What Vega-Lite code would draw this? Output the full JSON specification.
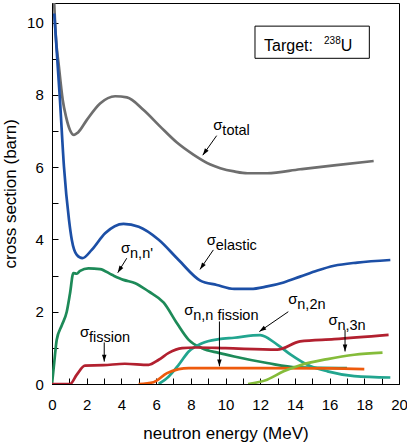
{
  "$schema": "https://vega.github.io/schema/vega-lite/v6.json",
  "width": 347,
  "height": 381,
  "autosize": {"type": "none"},
  "padding": {"left": 52, "top": 3, "right": 8, "bottom": 58},
  "background": "white",
  "config": {
    "font": "Liberation Sans",
    "view": {"stroke": "black", "strokeWidth": 1},
    "axis": {
      "domainColor": "black",
      "tickColor": "black",
      "labelColor": "black",
      "titleColor": "black",
      "labelFont": "Liberation Sans",
      "titleFont": "Liberation Sans",
      "labelFontSize": 15,
      "titleFontSize": 17,
      "titleFontWeight": "normal",
      "grid": false,
      "labelOverlap": false,
      "labelFlush": false,
      "labelBound": false
    }
  },
  "datasets": {
    "curves": [
      {"rxn": "total", "E": 0.07, "s": 11.2},
      {"rxn": "total", "E": 0.21, "s": 9.69},
      {"rxn": "total", "E": 0.40, "s": 8.77},
      {"rxn": "total", "E": 0.62, "s": 7.85},
      {"rxn": "total", "E": 0.81, "s": 7.39},
      {"rxn": "total", "E": 1.04, "s": 7.02},
      {"rxn": "total", "E": 1.27, "s": 6.89},
      {"rxn": "total", "E": 1.5, "s": 6.96},
      {"rxn": "total", "E": 2.0, "s": 7.3},
      {"rxn": "total", "E": 2.77, "s": 7.76},
      {"rxn": "total", "E": 3.64, "s": 7.96},
      {"rxn": "total", "E": 4.32, "s": 7.93},
      {"rxn": "total", "E": 5.28, "s": 7.58},
      {"rxn": "total", "E": 6.24, "s": 7.12},
      {"rxn": "total", "E": 7.2, "s": 6.68},
      {"rxn": "total", "E": 8.17, "s": 6.34},
      {"rxn": "total", "E": 9.13, "s": 6.07},
      {"rxn": "total", "E": 9.7, "s": 5.97},
      {"rxn": "total", "E": 10.5, "s": 5.88},
      {"rxn": "total", "E": 11.26, "s": 5.83},
      {"rxn": "total", "E": 12.4, "s": 5.83},
      {"rxn": "total", "E": 14.3, "s": 5.94},
      {"rxn": "total", "E": 16.26, "s": 6.05},
      {"rxn": "total", "E": 18.54, "s": 6.17},

      {"rxn": "elastic", "E": 0.13, "s": 10.25},
      {"rxn": "elastic", "E": 0.46, "s": 7.85},
      {"rxn": "elastic", "E": 0.69, "s": 6.01},
      {"rxn": "elastic", "E": 0.98, "s": 4.54},
      {"rxn": "elastic", "E": 1.14, "s": 3.99},
      {"rxn": "elastic", "E": 1.43, "s": 3.57},
      {"rxn": "elastic", "E": 1.75, "s": 3.48},
      {"rxn": "elastic", "E": 2.29, "s": 3.71},
      {"rxn": "elastic", "E": 3.06, "s": 4.17},
      {"rxn": "elastic", "E": 4.12, "s": 4.43},
      {"rxn": "elastic", "E": 5.0, "s": 4.35},
      {"rxn": "elastic", "E": 6.15, "s": 3.99},
      {"rxn": "elastic", "E": 7.3, "s": 3.43},
      {"rxn": "elastic", "E": 8.55, "s": 2.86},
      {"rxn": "elastic", "E": 9.5, "s": 2.74},
      {"rxn": "elastic", "E": 10.5, "s": 2.63},
      {"rxn": "elastic", "E": 11.45, "s": 2.63},
      {"rxn": "elastic", "E": 12.4, "s": 2.7},
      {"rxn": "elastic", "E": 13.35, "s": 2.81},
      {"rxn": "elastic", "E": 14.3, "s": 2.97},
      {"rxn": "elastic", "E": 15.3, "s": 3.14},
      {"rxn": "elastic", "E": 16.26, "s": 3.27},
      {"rxn": "elastic", "E": 17.6, "s": 3.36},
      {"rxn": "elastic", "E": 19.5, "s": 3.43},

      {"rxn": "nn", "E": 0.0, "s": 0.0},
      {"rxn": "nn", "E": 0.13, "s": 0.6},
      {"rxn": "nn", "E": 0.27, "s": 1.22},
      {"rxn": "nn", "E": 0.56, "s": 1.62},
      {"rxn": "nn", "E": 0.85, "s": 2.0},
      {"rxn": "nn", "E": 1.04, "s": 2.51},
      {"rxn": "nn", "E": 1.23, "s": 3.07},
      {"rxn": "nn", "E": 1.43, "s": 3.05},
      {"rxn": "nn", "E": 1.62, "s": 3.13},
      {"rxn": "nn", "E": 2.1, "s": 3.2},
      {"rxn": "nn", "E": 2.77, "s": 3.18},
      {"rxn": "nn", "E": 3.45, "s": 3.02},
      {"rxn": "nn", "E": 4.12, "s": 2.88},
      {"rxn": "nn", "E": 4.8, "s": 2.79},
      {"rxn": "nn", "E": 5.57, "s": 2.56},
      {"rxn": "nn", "E": 6.44, "s": 2.25},
      {"rxn": "nn", "E": 7.2, "s": 1.68},
      {"rxn": "nn", "E": 7.88, "s": 1.22},
      {"rxn": "nn", "E": 8.65, "s": 0.99},
      {"rxn": "nn", "E": 9.61, "s": 0.86},
      {"rxn": "nn", "E": 10.5, "s": 0.76},
      {"rxn": "nn", "E": 12.4, "s": 0.58},
      {"rxn": "nn", "E": 14.1, "s": 0.46},
      {"rxn": "nn", "E": 17.0, "s": 0.44},

      {"rxn": "n2n", "E": 6.15, "s": 0.0},
      {"rxn": "n2n", "E": 6.73, "s": 0.21},
      {"rxn": "n2n", "E": 7.3, "s": 0.53},
      {"rxn": "n2n", "E": 7.88, "s": 0.9},
      {"rxn": "n2n", "E": 8.65, "s": 1.13},
      {"rxn": "n2n", "E": 9.61, "s": 1.24},
      {"rxn": "n2n", "E": 10.5, "s": 1.28},
      {"rxn": "n2n", "E": 12.0, "s": 1.35},
      {"rxn": "n2n", "E": 12.98, "s": 1.09},
      {"rxn": "n2n", "E": 13.76, "s": 0.81},
      {"rxn": "n2n", "E": 14.72, "s": 0.53},
      {"rxn": "n2n", "E": 15.88, "s": 0.35},
      {"rxn": "n2n", "E": 17.42, "s": 0.22},
      {"rxn": "n2n", "E": 19.5, "s": 0.18},

      {"rxn": "fission", "E": 0.0, "s": 0.0},
      {"rxn": "fission", "E": 1.04, "s": 0.0},
      {"rxn": "fission", "E": 1.43, "s": 0.26},
      {"rxn": "fission", "E": 1.9, "s": 0.51},
      {"rxn": "fission", "E": 2.96, "s": 0.52},
      {"rxn": "fission", "E": 4.2, "s": 0.56},
      {"rxn": "fission", "E": 5.57, "s": 0.53},
      {"rxn": "fission", "E": 6.15, "s": 0.67},
      {"rxn": "fission", "E": 6.73, "s": 0.86},
      {"rxn": "fission", "E": 7.5, "s": 0.99},
      {"rxn": "fission", "E": 8.27, "s": 1.01},
      {"rxn": "fission", "E": 10.0, "s": 0.99},
      {"rxn": "fission", "E": 12.98, "s": 0.95},
      {"rxn": "fission", "E": 14.3, "s": 1.18},
      {"rxn": "fission", "E": 16.26, "s": 1.24},
      {"rxn": "fission", "E": 19.4, "s": 1.36},

      {"rxn": "nnf", "E": 4.99, "s": 0.0},
      {"rxn": "nnf", "E": 5.85, "s": 0.05},
      {"rxn": "nnf", "E": 6.63, "s": 0.3},
      {"rxn": "nnf", "E": 7.3, "s": 0.41},
      {"rxn": "nnf", "E": 7.88, "s": 0.44},
      {"rxn": "nnf", "E": 12.0, "s": 0.44},
      {"rxn": "nnf", "E": 16.0, "s": 0.43},
      {"rxn": "nnf", "E": 18.0, "s": 0.41},

      {"rxn": "n3n", "E": 11.3, "s": 0.0},
      {"rxn": "n3n", "E": 12.4, "s": 0.12},
      {"rxn": "n3n", "E": 13.35, "s": 0.35},
      {"rxn": "n3n", "E": 14.3, "s": 0.52},
      {"rxn": "n3n", "E": 15.88, "s": 0.69},
      {"rxn": "n3n", "E": 17.42, "s": 0.81},
      {"rxn": "n3n", "E": 19.05, "s": 0.87}
    ],
    "labels": [
      {"E": 9.3, "s": 7.02, "sub": "total"},
      {"E": 8.92, "s": 3.85, "sub": "elastic"},
      {"E": 3.98, "s": 3.62, "sub": "n,n'"},
      {"E": 1.61, "s": 1.31, "sub": "fission"},
      {"E": 7.62, "s": 1.91, "sub": "n,n fission"},
      {"E": 13.62, "s": 2.2, "sub": "n,2n"},
      {"E": 15.93, "s": 1.64, "sub": "n,3n"}
    ],
    "arrows": [
      {"E": 8.69, "s": 6.33, "tE": 9.49, "ts": 6.87},
      {"E": 8.53, "s": 3.17, "tE": 9.3, "ts": 3.71},
      {"E": 3.79, "s": 3.08, "tE": 4.31, "ts": 3.48},
      {"E": 3.01, "s": 0.62, "tE": 3.01, "ts": 1.15},
      {"E": 9.65, "s": 0.49, "tE": 9.65, "ts": 1.73},
      {"E": 11.95, "s": 1.45, "tE": 13.62, "ts": 2.0},
      {"E": 16.89, "s": 0.9, "tE": 16.89, "ts": 1.5}
    ]
  },
  "encoding": {
    "x": {
      "field": "E",
      "type": "quantitative",
      "scale": {"domain": [0, 20], "nice": false, "zero": false},
      "axis": {
        "title": "neutron energy (MeV)",
        "values": [0,1,2,3,4,5,6,7,8,9,10,11,12,13,14,15,16,17,18,19,20],
        "labelExpr": "datum.value % 2 == 0 ? datum.label : ''",
        "tickSize": -6,
        "labelPadding": 19,
        "titleY": 54,
        "titleBaseline": "alphabetic"
      }
    },
    "y": {
      "field": "s",
      "type": "quantitative",
      "scale": {"domain": [0, 10.54], "nice": false, "zero": false},
      "axis": {
        "title": "cross section (barn)",
        "values": [0,1,2,3,4,5,6,7,8,9,10],
        "labelExpr": "datum.value % 2 == 0 ? datum.label : ''",
        "tickSize": -6,
        "labelPadding": 14.7,
        "titleX": -37,
        "titleY": 190.3,
        "titleAngle": 270,
        "titleAlign": "center",
        "titleBaseline": "alphabetic"
      }
    }
  },
  "layer": [
    {
      "data": {"name": "curves"},
      "mark": {"type": "line", "strokeWidth": 2.7, "interpolate": "monotone", "clip": true},
      "encoding": {
        "color": {
          "field": "rxn",
          "type": "nominal",
          "scale": {
            "domain": ["total", "elastic", "nn", "n2n", "fission", "nnf", "n3n"],
            "range": ["#6e6e6e", "#1c4fa6", "#1d8a58", "#22a58f", "#b2202f", "#ee5a0c", "#85bc3a"]
          },
          "legend": null
        },
        "detail": {"field": "rxn"}
      }
    },
    {
      "data": {"name": "arrows"},
      "mark": {"type": "rule", "color": "black", "strokeWidth": 1},
      "encoding": {
        "x2": {"field": "tE"},
        "y2": {"field": "ts"}
      }
    },
    {
      "data": {"name": "arrows"},
      "transform": [
        {"calculate": "atan2((datum.E - datum.tE) * 17.35, (datum.s - datum.ts) * 36.15) * 180 / PI", "as": "ang"}
      ],
      "mark": {"type": "point", "shape": "M0,0L-0.75,2.3L0.75,2.3Z", "filled": true, "color": "black", "size": 36, "opacity": 1},
      "encoding": {
        "angle": {"field": "ang", "type": "quantitative", "scale": null}
      }
    },
    {
      "data": {"name": "labels"},
      "mark": {"type": "text", "text": "σ", "align": "left", "baseline": "alphabetic", "fontSize": 15, "color": "black"}
    },
    {
      "data": {"name": "labels"},
      "mark": {"type": "text", "align": "left", "baseline": "alphabetic", "fontSize": 14.5, "dx": 9, "dy": 5, "color": "black"},
      "encoding": {"text": {"field": "sub"}}
    },
    {
      "data": {"values": [{"E": 11.7, "E2": 18.29, "s": 9.9, "s2": 9.01}]},
      "mark": {"type": "rect", "fill": "white", "stroke": "black", "strokeWidth": 1},
      "encoding": {
        "x2": {"field": "E2"},
        "y2": {"field": "s2"}
      }
    },
    {
      "data": {"values": [{"E": 12.22, "s": 9.2, "t": "Target:"}]},
      "mark": {"type": "text", "align": "left", "baseline": "alphabetic", "fontSize": 16, "color": "black"},
      "encoding": {"text": {"field": "t"}}
    },
    {
      "data": {"values": [{"E": 15.68, "s": 9.41, "t": "238"}]},
      "mark": {"type": "text", "align": "left", "baseline": "alphabetic", "fontSize": 10, "color": "black"},
      "encoding": {"text": {"field": "t"}}
    },
    {
      "data": {"values": [{"E": 16.64, "s": 9.2, "t": "U"}]},
      "mark": {"type": "text", "align": "left", "baseline": "alphabetic", "fontSize": 16, "color": "black"},
      "encoding": {"text": {"field": "t"}}
    }
  ]
}
